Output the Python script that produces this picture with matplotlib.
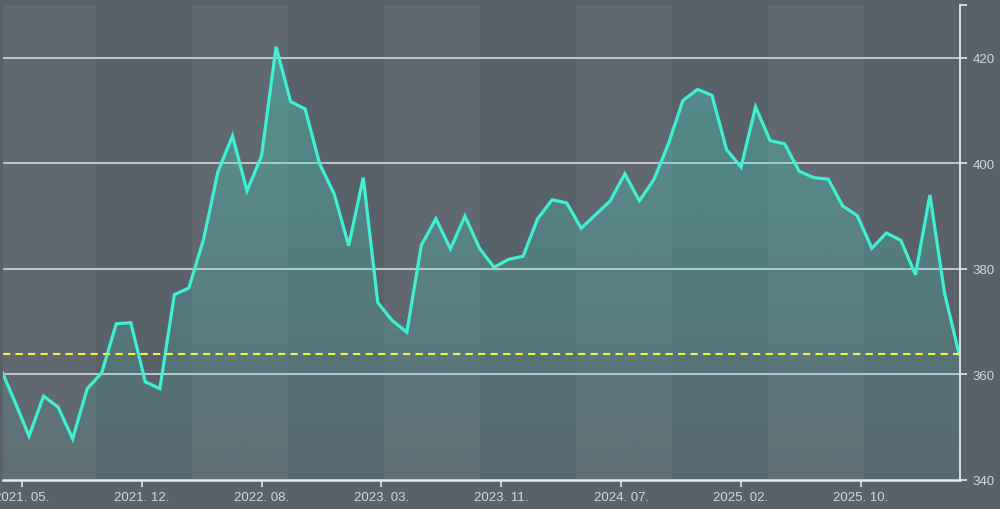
import numpy as np
import pandas as pd
import matplotlib
matplotlib.use("Agg")
import matplotlib.pyplot as plt
import matplotlib.dates as mdates
from matplotlib.patches import Rectangle, PathPatch

# ---- data (4-weekly observations) ----
start_date = "2021-03-26"
values = [361.4, 355.0, 348.3, 355.9, 353.8, 347.8, 357.3, 360.3, 369.6, 369.8,
          358.6, 357.3, 375.1, 376.4, 385.5, 398.4, 405.2, 394.8, 401.4, 422.1,
          411.7, 410.3, 399.9, 394.2, 384.4, 397.3, 373.6, 370.2, 368.0, 384.5,
          389.5, 383.8, 390.0, 383.9, 380.3, 381.8, 382.4, 389.5, 393.1, 392.5,
          387.7, 390.3, 392.9, 398.0, 392.9, 396.9, 403.7, 411.9, 414.0, 412.9,
          402.6, 399.3, 410.7, 404.3, 403.7, 398.5, 397.3, 397.0, 391.9, 390.1,
          383.9, 386.8, 385.4, 378.9, 394.0, 375.5, 363.9]
dates = pd.date_range(start_date, periods=len(values), freq="28D")
current_value = values[-1]

tick_start = "2021-05-07"
tick_labels = ["2021. 05.", "2021. 12.", "2022. 08.", "2023. 03.",
               "2023. 11.", "2024. 07.", "2025. 02.", "2025. 10."]
tick_dates = pd.date_range(tick_start, periods=len(tick_labels), freq="231D")

y_ticks = [340, 360, 380, 400, 420]
y_min, y_max = 340, 430

# ---- style ----
BG = "#59626b"
LINE = "#3ff0d4"
GRID = "#dfe2e6"
TXT = "#d3d7db"

fig = plt.figure(figsize=(10, 5.1), dpi=100, facecolor=BG)
ax = fig.add_axes([3/1000, 29/510, 957/1000, 475/510])
ax.set_facecolor(BG)

x = mdates.date2num(dates)
x_left = x[0] + (x[-1] - x[0]) * 3 / 959
x_right = x[0] + (x[-1] - x[0]) * 960 / 959
ax.set_xlim(x_left, x_right)
ax.set_ylim(y_min, y_max)

# alternating vertical bands (axes-fraction geometry)
band_w = 96 / 957
for k in range(0, 11, 2):
    x0 = max(0, k * band_w - 3 / 957)
    x1 = min(1, (k + 1) * band_w - 3 / 957)
    if x1 > x0:
        ax.add_patch(Rectangle((x0, 0), x1 - x0, 1, transform=ax.transAxes,
                               facecolor="white", alpha=0.045, edgecolor="none", zorder=0))

# grid lines
for yv in y_ticks[1:]:
    ax.axhline(yv, color=GRID, lw=1.2, zorder=1, alpha=0.9)

# gradient fill under the line
poly = ax.fill_between(x, values, y_min, color="none", lw=0)
path = poly.get_paths()[0]
clip = PathPatch(path, transform=ax.transData, facecolor="none", edgecolor="none")
ax.add_patch(clip)
grad = np.linspace(0.32, 0.05, 256).reshape(-1, 1)
rgba = np.zeros((256, 1, 4))
rgba[..., 0] = 0x3f / 255
rgba[..., 1] = 0xf0 / 255
rgba[..., 2] = 0xd4 / 255
rgba[..., 3] = grad
im = ax.imshow(rgba, extent=[x[0], x[-1], y_min, max(values)], origin="upper",
               aspect="auto", zorder=2, interpolation="bilinear")
im.set_clip_path(clip)

# line
ax.plot(x, values, color=LINE, lw=2.3, zorder=4, solid_joinstyle="miter")

# current value dashed line
ax.axhline(current_value, color="#f5f03a", lw=1.5, ls=(0, (3.5, 2.5)), zorder=5)

# axes
for s in ["top", "left"]:
    ax.spines[s].set_visible(False)
ax.spines["right"].set_color("#e6e9ec")
ax.spines["right"].set_linewidth(1.3)
ax.spines["bottom"].set_color("#e6e9ec")
ax.spines["bottom"].set_linewidth(1.8)
ax.spines["right"].set_zorder(6)
ax.spines["bottom"].set_zorder(6)

ax.yaxis.tick_right()
ax.set_yticks(y_ticks + [y_max])
ax.set_yticklabels([str(v) for v in y_ticks] + [""])
ax.set_xticks(mdates.date2num(tick_dates))
ax.set_xticklabels(tick_labels)
ax.tick_params(axis="y", which="both", direction="out", length=5, width=1.2,
               color="#e6e9ec", labelcolor=TXT, labelsize=9.5, pad=4)
ax.tick_params(axis="x", direction="out", length=5, width=1.2,
               color="#e6e9ec", labelcolor=TXT, labelsize=9.5, pad=3)
for lab in ax.get_xticklabels() + ax.get_yticklabels():
    lab.set_fontfamily("Liberation Sans")
for lab in ax.get_xticklabels():
    lab.set_clip_on(False)

fig.savefig("out.png", dpi=100, facecolor=BG)
